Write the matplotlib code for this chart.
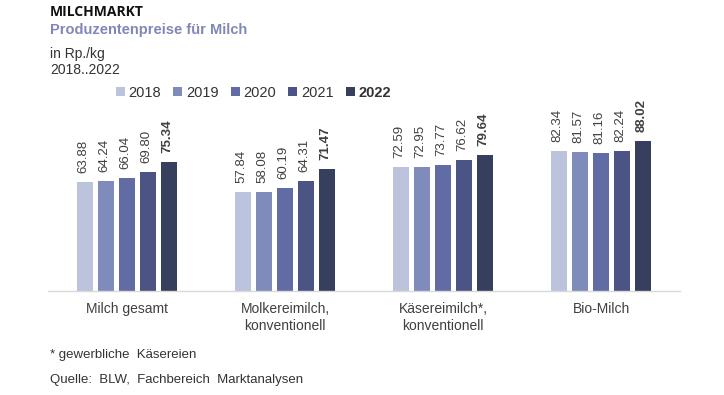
import matplotlib
matplotlib.use("Agg")
import matplotlib.pyplot as plt
from matplotlib.patches import Patch
import numpy as np

categories = ["Milch gesamt", "Molkereimilch,\nkonventionell", "Käsereimilch*,\nkonventionell", "Bio-Milch"]
years = ["2018", "2019", "2020", "2021", "2022"]
v2018 = [63.88, 57.84, 72.59, 82.34]
v2019 = [64.24, 58.08, 72.95, 81.57]
v2020 = [66.04, 60.19, 73.77, 81.16]
v2021 = [69.80, 64.31, 76.62, 82.24]
v2022 = [75.34, 71.47, 79.64, 88.02]
series = [v2018, v2019, v2020, v2021, v2022]
colors = ["#bcc3dc", "#7f8bbb", "#606ca3", "#4b5484", "#363f5e"]

plt.rcParams['font.family'] = ['Liberation Sans', 'DejaVu Sans']

W, H = 724, 395
fig = plt.figure(figsize=(W/100, H/100), dpi=100)
# axes in pixel coords: left 48, right 680, bottom y=291, top y=100
ax = fig.add_axes([48/W, 1-291/H, (680-48)/W, (291-100)/H])
ax.set_xlim(-0.5, 3.5)
ax.set_ylim(0, 191/1.706)

x = np.arange(len(categories))
pitch = 0.133
bw = 0.101
for i, (vals, c) in enumerate(zip(series, colors)):
    xs = x + (i - 2) * pitch
    ax.bar(xs, vals, width=bw, color=c, zorder=2)
    for xi, v in zip(xs, vals):
        ax.annotate(f"{v:.2f}", (xi, v), xytext=(-1, 6.5), textcoords='offset points',
                    rotation=90, ha='center', va='bottom',
                    fontsize=9.5, color='#404040',
                    fontweight='bold' if i == 4 else 'normal')

for s in ['top', 'right', 'left']:
    ax.spines[s].set_visible(False)
ax.spines['bottom'].set_color('#d9d9d9')
ax.spines['bottom'].set_linewidth(1.0)
ax.set_yticks([])
ax.set_xticks(x)
ax.set_xticklabels(categories, fontsize=10, color='#404040', linespacing=1.3)
ax.tick_params(axis='x', length=0, pad=8)

# Titles
fig.text(50/W, 1-12/H, "MILCHMARKT", fontsize=10, fontweight='bold', color='#111111',
         family=['Open Sans', 'DejaVu Sans'], va='center')
fig.text(50/W, 1-30/H, "Produzentenpreise für Milch", fontsize=10.5, fontweight='bold',
         color='#8088b8', va='center')
fig.text(50/W, 1-54/H, "in Rp./kg", fontsize=10, color='#333333', va='center')
fig.text(50/W, 1-70/H, "2018..2022", fontsize=10, color='#333333', va='center')

# Legend
handles = [Patch(facecolor=c, edgecolor='none') for c in colors]
leg = fig.legend(handles, years, ncol=5, frameon=False, loc='center left',
                 bbox_to_anchor=(116/W, 1-93/H), handlelength=0.6, handleheight=0.6,
                 handletextpad=0.25, columnspacing=0.85, fontsize=10.5,
                 borderaxespad=0, borderpad=0)
for t in leg.get_texts():
    t.set_color('#333333')
leg.get_texts()[4].set_fontweight('bold')

fig.text(50/W, 1-355/H, "* gewerbliche  Käsereien", fontsize=9.5, color='#333333', va='center')
fig.text(50/W, 1-380/H, "Quelle:  BLW,  Fachbereich  Marktanalysen", fontsize=9.5, color='#333333', va='center')

fig.savefig("out.png", dpi=100)
